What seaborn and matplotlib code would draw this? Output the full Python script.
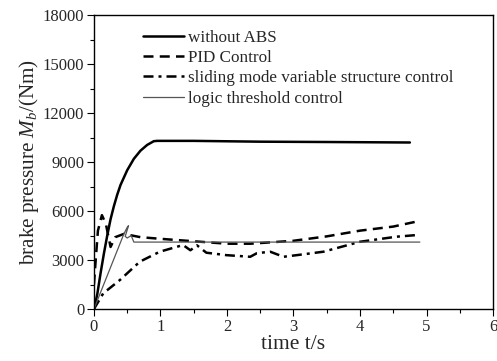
import numpy as np
import pandas as pd
import matplotlib.pyplot as plt
import seaborn as sns
from matplotlib.ticker import MultipleLocator

# values
t_noabs = [0, 0.05, 0.1, 0.15, 0.2, 0.25, 0.3, 0.35, 0.4, 0.5, 0.6, 0.7, 0.8, 0.9, 0.95,
           1.5, 2.5, 3.5, 4.75]
p_noabs = [0, 900, 2200, 3400, 4500, 5500, 6300, 7000, 7600, 8500, 9200, 9700, 10050, 10280, 10300,
           10300, 10250, 10230, 10200]

t_pid = [0, 0.03, 0.06, 0.12, 0.18, 0.25, 0.32, 0.45, 0.7, 1.0, 1.5, 2.0, 2.35, 3.0, 3.5, 4.0, 4.5, 4.9]
p_pid = [1500, 3200, 4800, 5750, 5200, 3800, 4400, 4600, 4400, 4300, 4150, 4000, 4000, 4180, 4450, 4800, 5050, 5400]

t_smc = [0, 0.14, 0.39, 0.69, 0.99, 1.34, 1.45, 1.55, 1.69, 1.99, 2.35, 2.45, 2.65, 2.85, 3.05, 3.45, 4.0, 4.55, 4.85]
p_smc = [0, 960, 1775, 2900, 3510, 3920, 3600, 3900, 3450, 3300, 3200, 3420, 3510, 3200, 3300, 3510, 4120, 4430, 4530]

t_logic = [0, 0.45, 0.5, 0.52, 0.47, 0.5, 0.56, 0.6, 4.9]
p_logic = [0, 4600, 5000, 5100, 4450, 4350, 4500, 4100, 4100]

labels = ["without ABS", "PID Control",
          "sliding mode variable structure control", "logic threshold control"]

sns.set_style("white")
plt.rcParams['font.family'] = ['Liberation Serif', 'DejaVu Serif']
plt.rcParams['mathtext.fontset'] = 'custom'
plt.rcParams['mathtext.it'] = 'Liberation Serif:italic'
plt.rcParams['mathtext.rm'] = 'Liberation Serif'

fig = plt.figure(figsize=(4.97, 3.61), dpi=100)
ax = fig.add_axes([0.189, 0.144, 0.803, 0.814])

sns.lineplot(x=t_noabs, y=p_noabs, ax=ax, color='black', lw=1.8,
             label=labels[0], sort=False, estimator=None)
sns.lineplot(x=t_pid, y=p_pid, ax=ax, color='black', lw=1.8,
             label=labels[1], sort=False, estimator=None)
ax.lines[-1].set_dashes([4, 2.5])
sns.lineplot(x=t_smc, y=p_smc, ax=ax, color='black', lw=1.8,
             label=labels[2], sort=False, estimator=None)
ax.lines[-1].set_dashes([4, 2, 1.2, 2])
sns.lineplot(x=t_logic, y=p_logic, ax=ax, color='#555555', lw=0.9,
             label=labels[3], sort=False, estimator=None)

ax.set_xlim(0, 6)
ax.set_ylim(0, 18000)
ax.xaxis.set_major_locator(MultipleLocator(1))
ax.xaxis.set_minor_locator(MultipleLocator(0.5))
ax.yaxis.set_major_locator(MultipleLocator(3000))
ax.yaxis.set_minor_locator(MultipleLocator(1500))
ax.tick_params(which='both', direction='out', top=False, right=False,
               bottom=True, left=True, labelsize=12, color='black', pad=2)
ax.tick_params(which='major', length=5, width=0.8)
ax.tick_params(which='minor', length=3, width=0.8)
for s in ax.spines.values():
    s.set_color('black')
    s.set_linewidth(1.0)

ax.set_xlabel('time t/s', fontsize=15.5, labelpad=0)
ax.set_ylabel(r'brake pressure $M_b$/(Nm)', fontsize=15.2, labelpad=1)

ax.legend(loc='upper left', bbox_to_anchor=(0.123, 0.95), frameon=False,
          fontsize=12.3, handlelength=2.4, handletextpad=0.25,
          labelspacing=0.25, borderaxespad=0, borderpad=0)

fig.savefig('out.png', dpi=100)
